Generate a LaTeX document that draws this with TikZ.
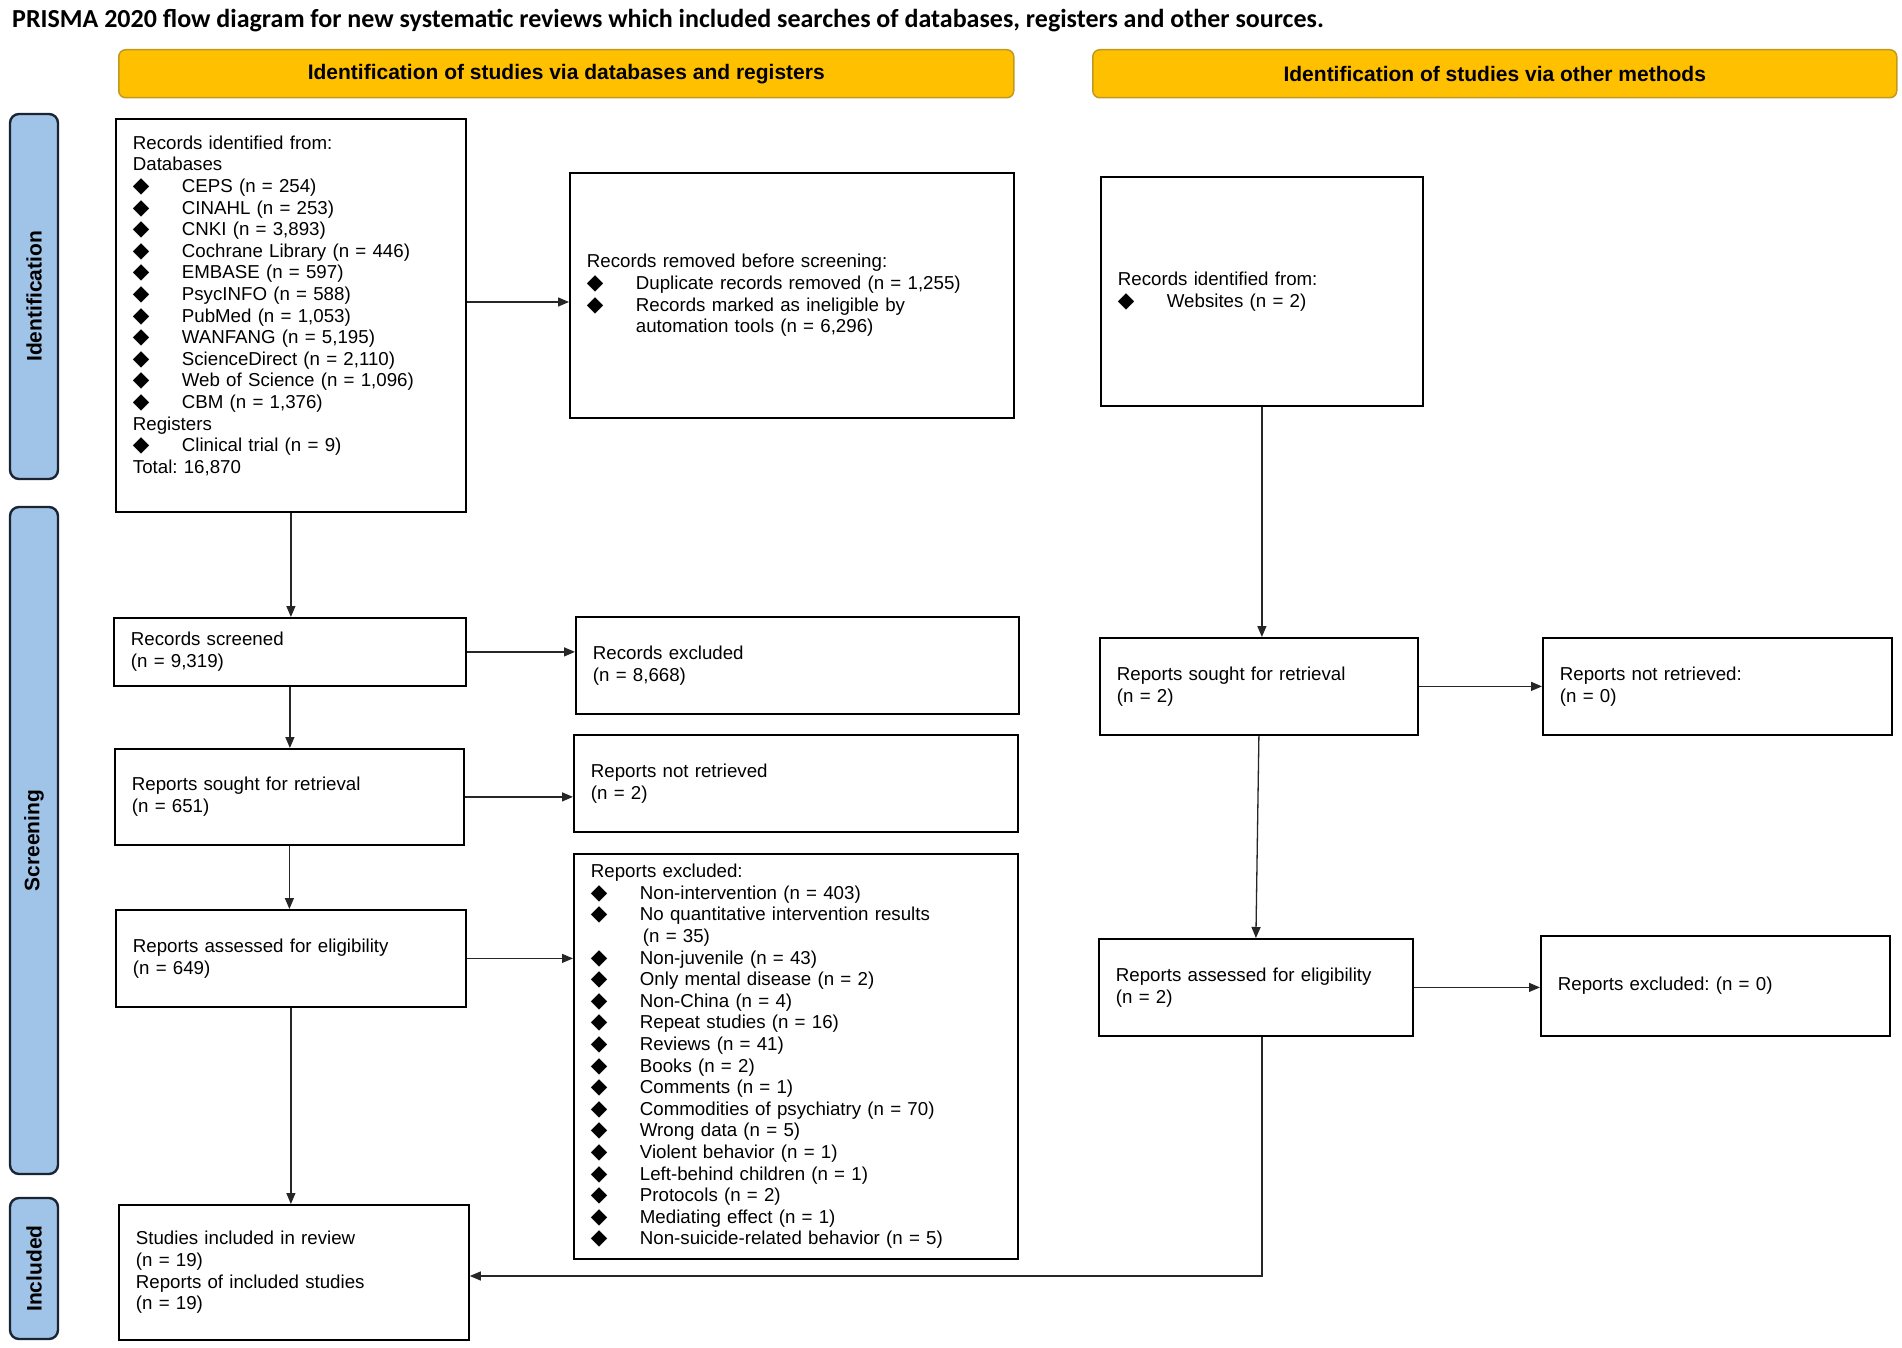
\documentclass[tikz,border=0pt]{standalone}
\usepackage{fontspec}
\setmainfont{Liberation Sans}
\newfontfamily\titlefont{Carlito}
\newfontfamily\symfont{DejaVu Sans}
\usetikzlibrary{arrows.meta,calc}
\definecolor{hdryellow}{HTML}{FFC000}
\definecolor{hdrborder}{HTML}{C09A20}
\definecolor{sideblue}{HTML}{A0C4E8}
\definecolor{sideborder}{HTML}{1A2433}
\newcommand{\bul}{{\symfont\fontsize{21.5}{21.5}\selectfont ◆}}
\newcommand{\itm}[1]{\makebox[49pt][l]{\hspace{0pt}\bul}#1}
\newcommand{\itmc}{\hspace*{49pt}}
\frenchspacing
\begin{document}
\begin{tikzpicture}[x=1pt,y=-1pt,
  box/.style={draw=black, line width=1.8pt, rectangle, anchor=north west,
    inner xsep=17pt, inner ysep=0pt, align=left,
    font=\frenchspacing\fontsize{18.7}{21.6}\selectfont},
  hdr/.style={draw=hdrborder, line width=1.5pt, fill=hdryellow, rounded corners=7pt,
    anchor=north west, minimum height=48pt, inner sep=0pt,
    font=\bfseries\fontsize{21}{24}\selectfont},
  side/.style={draw=sideborder, line width=2.4pt, fill=sideblue, rounded corners=9pt,
    rotate=90, minimum height=48pt, inner sep=0pt,
    font=\bfseries\fontsize{21}{24}\selectfont},
  arr/.style={draw=black!85, line width=1.3pt, -{Triangle[length=11pt,width=9pt]}}
]
\useasboundingbox (0,0) rectangle (1902,1348);
\fill[white] (0,0) rectangle (1902,1348);

\node[anchor=base west, inner sep=0pt, font=\titlefont\bfseries\fontsize{26}{30}\selectfont] (title) at (12,28)
  {PRISMA 2020 flow diagram for new systematic reviews which included searches of databases, registers and other sources.};

\node[hdr, minimum width=895pt] (hdrA) at (118,49) {Identification of studies via databases and registers};
\node[hdr, minimum width=804pt] (hdrB) at (1092,49) {Identification of studies via other methods};

\node[side, minimum width=365pt] (sideId) at (34,296.5) {Identification};
\node[side, minimum width=667pt] (sideSc) at (34,840.5) {Screening};
\node[side, minimum width=141pt] (sideIn) at (34,1268.5) {Included};

\node[box, minimum width=350pt, minimum height=393pt, text width=316pt] (rid) at (115,118) {%
Records identified from:\\
Databases\\
\itm{CEPS (n = 254)}\\
\itm{CINAHL (n = 253)}\\
\itm{CNKI (n = 3,893)}\\
\itm{Cochrane Library (n = 446)}\\
\itm{EMBASE (n = 597)}\\
\itm{PsycINFO (n = 588)}\\
\itm{PubMed (n = 1,053)}\\
\itm{WANFANG (n = 5,195)}\\
\itm{ScienceDirect (n = 2,110)}\\
\itm{Web of Science (n = 1,096)}\\
\itm{CBM (n = 1,376)}\\
Registers\\
\itm{Clinical trial (n = 9)}\\
Total: 16,870\\
\mbox{}};

\node[box, minimum width=444pt, minimum height=245pt, text width=410pt] (rrem) at (569,172) {%
Records removed before screening:\\
\itm{Duplicate records removed (n = 1,255)}\\
\itm{Records marked as ineligible by}\\
\itmc automation tools (n = 6,296)};

\node[box, minimum width=322pt, minimum height=229pt, text width=288pt] (orid) at (1100,176) {%
Records identified from:\\
\itm{Websites (n = 2)}};

\node[box, minimum width=352pt, minimum height=68pt, text width=318pt] (rscr) at (113,617) {Records screened\\(n = 9,319)};
\node[box, minimum width=443pt, minimum height=97pt, text width=409pt] (rexc) at (575,616) {Records excluded\\(n = 8,668)};
\node[box, minimum width=349pt, minimum height=96pt, text width=315pt] (rsought) at (114,748) {Reports sought for retrieval\\(n = 651)};
\node[box, minimum width=444pt, minimum height=97pt, text width=410pt] (rnot) at (573,734) {Reports not retrieved\\(n = 2)};
\node[box, minimum width=350pt, minimum height=97pt, text width=316pt] (rass) at (115,909) {Reports assessed for eligibility\\(n = 649)};

\node[box, minimum width=444pt, minimum height=405pt, text width=410pt] (repexc) at (573,853) {%
Reports excluded:\\
\itm{Non-intervention (n = 403)}\\
\itm{No quantitative intervention results}\\
\hspace*{52pt}(n = 35)\\
\itm{Non-juvenile (n = 43)}\\
\itm{Only mental disease (n = 2)}\\
\itm{Non-China (n = 4)}\\
\itm{Repeat studies (n = 16)}\\
\itm{Reviews (n = 41)}\\
\itm{Books (n = 2)}\\
\itm{Comments (n = 1)}\\
\itm{Commodities of psychiatry (n = 70)}\\
\itm{Wrong data (n = 5)}\\
\itm{Violent behavior (n = 1)}\\
\itm{Left-behind children (n = 1)}\\
\itm{Protocols (n = 2)}\\
\itm{Mediating effect (n = 1)}\\
\itm{Non-suicide-related behavior (n = 5)}};

\node[box, minimum width=350pt, minimum height=135pt, text width=316pt] (incl) at (118,1204) {%
Studies included in review\\(n = 19)\\Reports of included studies\\(n = 19)};

\node[box, minimum width=318pt, minimum height=97pt, text width=284pt] (osought) at (1099,637) {Reports sought for retrieval\\(n = 2)};
\node[box, minimum width=349pt, minimum height=97pt, text width=315pt] (onot) at (1542,637) {Reports not retrieved:\\(n = 0)};
\node[box, minimum width=314pt, minimum height=97pt, text width=280pt] (oass) at (1098,938) {Reports assessed for eligibility\\(n = 2)};
\node[box, minimum width=349pt, minimum height=100pt, text width=315pt] (oexc) at (1540,935) {Reports excluded: (n = 0)};

% connectors
\coordinate (yA) at (0,302);
\draw[arr] (rid.east |- yA) -- (rrem.west |- yA);
\draw[arr] (rid.south) -- (rid.south |- rscr.north);
\draw[arr] (rscr.east) -- (rscr.east -| rexc.west);
\draw[arr] (rscr.south) -- (rscr.south |- rsought.north);
\draw[arr] (rsought.east) -- (rsought.east -| rnot.west);
\draw[arr] (rsought.south) -- (rsought.south |- rass.north);
\draw[arr] (rass.east) -- (rass.east -| repexc.west);
\draw[arr] (rass.south) -- (rass.south |- incl.north);
\draw[arr] (orid.south) -- (orid.south |- osought.north);
\draw[arr] (osought.east) -- (osought.east -| onot.west);
\draw[arr] (osought.south) -- (oass.north);
\draw[arr] (oass.east) -- (oass.east -| oexc.west);
\coordinate (cB) at (1262,1276);
\draw[arr] (oass.south -| cB) -- (cB) -- (cB -| incl.east);
\end{tikzpicture}
\end{document}
